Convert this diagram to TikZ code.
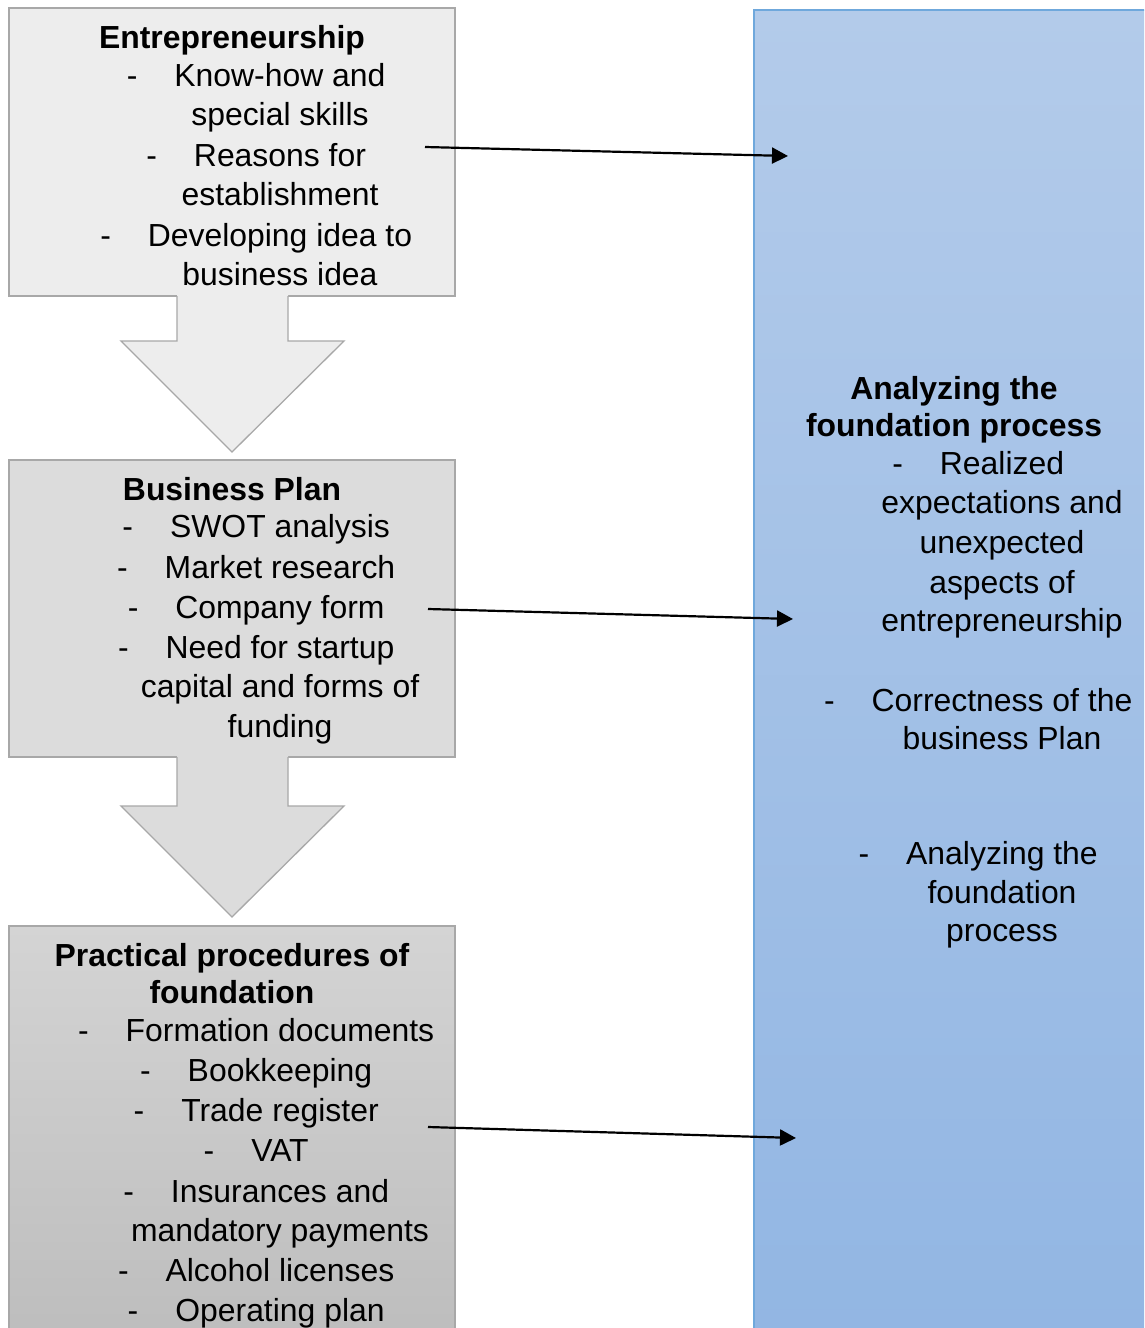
\documentclass[tikz,border=0pt]{standalone}
\usepackage{fontspec}
\setmainfont{Liberation Sans}
\usetikzlibrary{arrows.meta}
\definecolor{boxA}{HTML}{EDEDED}
\definecolor{boxB}{HTML}{DCDCDC}
\definecolor{boxCtop}{HTML}{D4D4D4}
\definecolor{boxCbot}{HTML}{BDBDBD}
\definecolor{grayline}{HTML}{A8A8A8}
\definecolor{bluetop}{HTML}{B3CBEA}
\definecolor{bluebot}{HTML}{92B6E3}
\definecolor{blueline}{HTML}{6FA8DC}
\newcommand\dsh{\llap{-\hspace{37pt}}}
\tikzset{
  ttl/.style={font=\fontsize{31.9}{38}\selectfont\bfseries, anchor=base, inner sep=0pt},
  itm/.style={font=\fontsize{31.9}{38}\selectfont, anchor=base, inner sep=0pt},
  graybox/.style={rectangle, draw=grayline, line width=1.3pt, minimum width=446pt, inner sep=0pt},
  conn/.style={line width=2.2pt, -{Triangle[length=16pt,width=16pt]}},
}
\begin{document}
\begin{tikzpicture}[x=1pt,y=-1pt]
\useasboundingbox (0,0) rectangle (1144,1328);
\clip (0,0) rectangle (1144,1328);
\fill[white] (0,0) rectangle (1144,1328);
% boxes
\node[graybox, fill=boxA, minimum height=288pt] (ent) at (232,152) {};
\node[graybox, fill=boxB, minimum height=297pt] (bp) at (232,608.5) {};
\node[graybox, top color=boxCtop, bottom color=boxCbot, minimum height=414pt] (pp) at (232,1133) {};
\node[rectangle, draw=blueline, line width=1.3pt, top color=bluetop, bottom color=bluebot, minimum width=406pt, minimum height=1330pt, inner sep=0pt] (an) at (957,675) {};
% block arrows
\fill[boxA] (177,294) -- (177,341) -- (121,341) -- (232,452) -- (344,341) -- (288,341) -- (288,294) -- cycle;
\draw[grayline, line width=1.3pt, line join=miter] (177,296) -- (177,341) -- (121,341) -- (232,452) -- (344,341) -- (288,341) -- (288,296);
\fill[boxB] (177,755) -- (177,806) -- (121,806) -- (232,917) -- (344,806) -- (288,806) -- (288,755) -- cycle;
\draw[grayline, line width=1.3pt, line join=miter] (177,757) -- (177,806) -- (121,806) -- (232,917) -- (344,806) -- (288,806) -- (288,757);
% box 1 text
\node[ttl] (e0) at (232,48) {Entrepreneurship};
\node[itm] (e1) at (280,86) {\dsh Know-how and};
\node[itm] (e2) at (280,125) {special skills};
\node[itm] (e3) at (280,166) {\dsh Reasons for};
\node[itm] (e4) at (280,205) {establishment};
\node[itm] (e5) at (280,246) {\dsh Developing idea to};
\node[itm] (e6) at (280,285) {business idea};
% box 2 text
\node[ttl] (b0) at (232,500) {Business Plan};
\node[itm] (b1) at (280,537) {\dsh SWOT analysis};
\node[itm] (b2) at (280,578) {\dsh Market research};
\node[itm] (b3) at (280,618) {\dsh Company form};
\node[itm] (b4) at (280,658) {\dsh Need for startup};
\node[itm] (b5) at (280,697) {capital and forms of};
\node[itm] (b6) at (280,737) {funding};
% box 3 text
\node[ttl] (p0) at (232,966) {Practical procedures of};
\node[ttl] (p1) at (232,1003) {foundation};
\node[itm] (p2) at (280,1041) {\dsh Formation documents};
\node[itm] (p3) at (280,1081) {\dsh Bookkeeping};
\node[itm] (p4) at (280,1121) {\dsh Trade register};
\node[itm] (p5) at (280,1161) {\dsh VAT};
\node[itm] (p6) at (280,1202) {\dsh Insurances and};
\node[itm] (p7) at (280,1241) {mandatory payments};
\node[itm] (p8) at (280,1281) {\dsh Alcohol licenses};
\node[itm] (p9) at (280,1321) {\dsh Operating plan};
% right box text
\node[ttl] (r0) at (954,399) {Analyzing the};
\node[ttl] (r1) at (954,436) {foundation process};
\node[itm] (r2) at (1002,474) {\dsh Realized};
\node[itm] (r3) at (1002,513) {expectations and};
\node[itm] (r4) at (1002,553) {unexpected};
\node[itm] (r5) at (1002,593) {aspects of};
\node[itm] (r6) at (1002,631) {entrepreneurship};
\node[itm] (r7) at (1002,711) {\dsh Correctness of the};
\node[itm] (r8) at (1002,749) {business Plan};
\node[itm] (r9) at (1002,864) {\dsh Analyzing the};
\node[itm] (r10) at (1002,903) {foundation};
\node[itm] (r11) at (1002,941) {process};
% connectors
\coordinate (a1s) at (425,147);
\coordinate (a1e) at (788,156);
\coordinate (a2s) at (428,609);
\coordinate (a2e) at (793,619);
\coordinate (a3s) at (428,1127);
\coordinate (a3e) at (796,1138);
\draw[conn] (a1s) -- (a1e);
\draw[conn] (a2s) -- (a2e);
\draw[conn] (a3s) -- (a3e);
\end{tikzpicture}
\end{document}
